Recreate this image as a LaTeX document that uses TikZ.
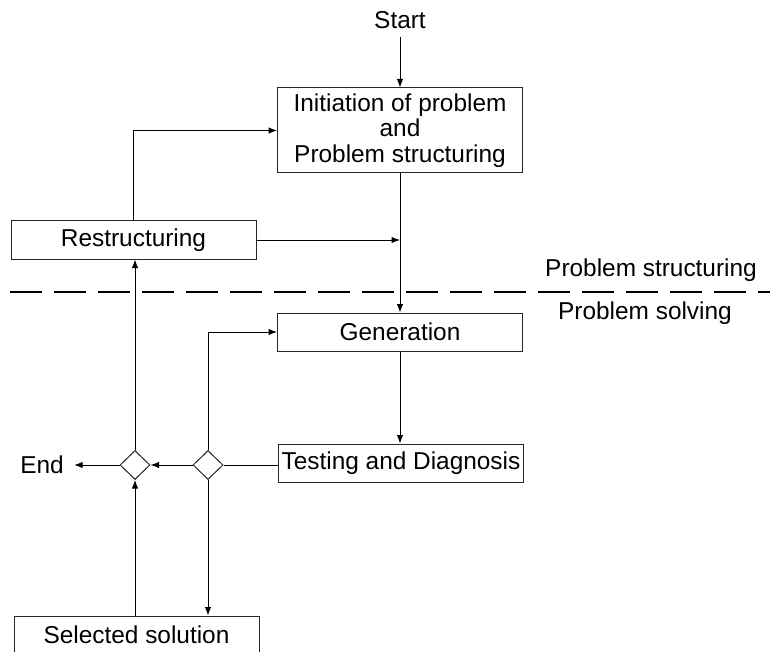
\documentclass[tikz,border=0pt]{standalone}
\usepackage{fontspec}
\setmainfont{Liberation Sans}
\usepackage{tikz}
\usetikzlibrary{shapes.geometric, positioning}
\usetikzlibrary{arrows.meta}
\tikzset{>={Latex[width=6.5pt,length=8.5pt]}}

\begin{document}
\begin{tikzpicture}[x=1pt, y=-1pt, font=\fontsize{24.4}{25.5}\selectfont, line width=1pt, box/.style={rectangle, draw=black!85, minimum width=245pt, minimum height=38pt, inner sep=0pt}, bigbox/.style={box, minimum height=85pt, align=center}, choice/.style={diamond, draw=black!85, minimum width=30pt, minimum height=29pt, inner sep=0pt}, emptynode/.style={draw=none, fill=none, inner sep=0pt}]

    \useasboundingbox (0,0) rectangle (770,652);
    \clip (0,0) rectangle (770,652);

    %Nodes
    \node[emptynode](start) at (400,20){Start};
    \node[bigbox](initiation) at (400,130.5){Initiation of problem\\and\\Problem structuring};
    \node[box](restructuring) at (133.5,240){Restructuring};
    \node[box](generation) at (400,332){Generation};
    \node[box](testing) at (401,463){Testing and Diagnosis};
    \node[choice](dright) at (208,465){};
    \node[choice](dleft)[left=42pt of dright]{};
    \node[emptynode, inner xsep=10pt](end) at (42,465){End};
    \node[box](selected) at (136.5,635){Selected solution};
    \node[emptynode](structuring) at (651,270){Problem structuring};
    \node[emptynode](solving) at (645,313){Problem solving};
    \coordinate (join) at (initiation.south |- restructuring.east);
    \coordinate (cutl) at (10,292);
    \coordinate (cutr) at (770,292);

    %Lines
    \draw[->] ([yshift=-8pt]start.south) -- (initiation.north);
    \draw[->] (initiation.south) -- (generation.north);
    \draw[->] (restructuring.east) -- (join);
    \draw[->] (restructuring.north) |- (initiation.west);
    \draw[->] (generation.south) -- (testing.north -| generation.south);
    \draw (dright.east -| testing.west) -- (dright.east);
    \draw[->] (dright.west) -- (dleft.east);
    \draw[->] (dleft.west) -- (end.east);
    \draw[->] (dright.south) -- (dright.south |- selected.north);
    \draw[->] (dleft.south |- selected.north) -- (dleft.south);
    \draw[->] (dleft.north) -- (dleft.north |- restructuring.south);
    \draw[->] (dright.north) |- (generation.west);
    \draw[line width=1.5pt, dash pattern=on 32pt off 12pt] (cutl) -- (cutr);

\end{tikzpicture}
\end{document}
